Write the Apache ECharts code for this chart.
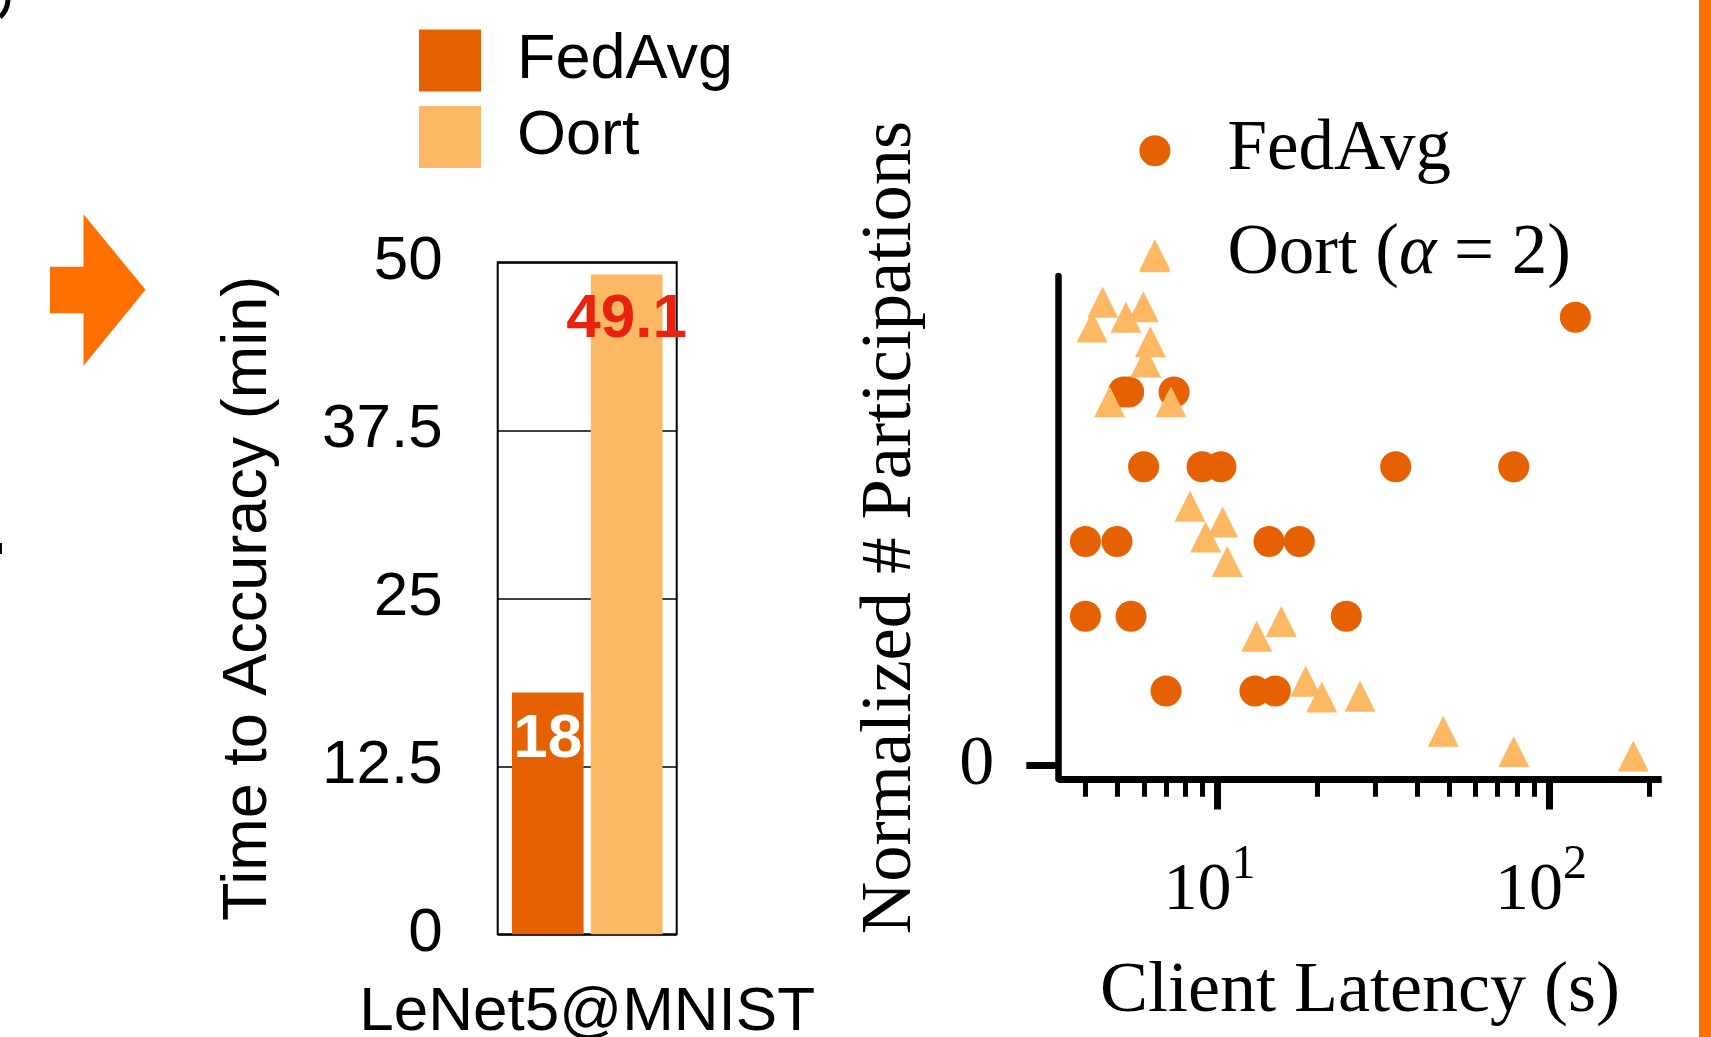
<!DOCTYPE html>
<html>
<head>
<meta charset="utf-8">
<script src="https://cdn.jsdelivr.net/npm/echarts@6.0.0/dist/echarts.min.js"></script>
<style>
  html, body { margin: 0; padding: 0; background: #fff; }
  #chart { width: 1711px; height: 1037px; }
</style>
</head>
<body>
<div id="chart"></div>
<script>
// ---------- data: left bar chart ----------
const categories = ['LeNet5@MNIST'];
const fedAvgTime = [18];
const oortTime = [49.1];
const timeAxisMin = 0;
const timeAxisMax = 50;
const timeAxisInterval = 12.5;

// ---------- data: right scatter chart ----------
const fedAvgLatency = [120.1, 5.21, 5.40, 7.40, 5.99, 8.99, 10.25, 34.5, 78.3, 4.00, 4.98, 14.31, 17.66, 4.00, 5.49, 24.48, 7.00, 12.98, 14.95];
const fedAvgParticipation = [6, 5, 5, 5, 4, 4, 4, 4, 4, 3, 3, 3, 3, 2, 2, 2, 1, 1, 1];
const oortLatency = [6.48, 4.51, 5.30, 5.98, 4.19, 6.28, 6.08, 4.73, 7.24, 8.27, 10.37, 9.22, 10.71, 13.14, 15.59, 18.47, 20.64, 26.93, 48.0, 78.3, 179.7];
const oortParticipation = [6.81, 6.20, 6.00, 6.14, 5.87, 5.67, 5.40, 4.87, 4.87, 3.47, 3.26, 3.06, 2.73, 1.73, 1.93, 1.13, 0.92, 0.93, 0.46, 0.19, 0.13];
const latencyMinorTicks = [4, 5, 6, 7, 8, 9, 20, 30, 40, 50, 60, 70, 80, 90, 200];
const latencyMajorTicks = [10, 100];
const participationTicks = [0];
const latencyMin = 3.313, latencyMax = 218.8;
const participationMin = -0.178, participationMax = 6.551;

const SANS = '"Liberation Sans", Arial, Helvetica, sans-serif';
const SERIF = '"Liberation Serif", "Times New Roman", serif';
const FED = '#E66101';
const OORT = '#FDB863';
const ACCENT = '#FF7000';

const chart = echarts.init(document.getElementById('chart'), null, { renderer: 'canvas' });

const option = {
  animation: false,
  backgroundColor: '#ffffff',
  grid: [
    { left: 497.7, top: 262.3, width: 179, height: 672, show: true, borderColor: '#000', borderWidth: 2,
      backgroundColor: 'transparent', containLabel: false, outerBoundsMode: 'none' },
    { left: 1058.3, top: 276, width: 603.4, height: 503, show: false, containLabel: false, outerBoundsMode: 'none' }
  ],
  legend: [
    {
      orient: 'vertical', left: 419, top: 29, padding: 0, itemWidth: 62, itemHeight: 62, itemGap: 13.5,
      selectedMode: false,
      data: [{ name: 'FedAvg', icon: 'rect' }, { name: 'Oort', icon: 'rect' }],
      textStyle: { fontFamily: SANS, fontSize: 63, color: '#000', padding: [0, 0, 0, 31] }
    },
    {
      orient: 'vertical', left: 1139.4, top: 115.3, padding: 0, itemWidth: 31, itemHeight: 31, itemGap: 33,
      selectedMode: false,
      data: [{ name: 'FedAvg', icon: 'circle' }, { name: 'Oort (α = 2)', icon: 'triangle' }],
      formatter: function (name) {
        return name === 'Oort (α = 2)' ? 'Oort ({i|α} = 2)' : name;
      },
      textStyle: {
        fontFamily: SERIF, fontSize: 71, color: '#000', padding: [0, 0, 0, 52],
        rich: { i: { fontFamily: SERIF, fontStyle: 'italic', fontSize: 71, color: '#000' } }
      }
    }
  ],
  xAxis: [
    {
      gridIndex: 0, type: 'category', data: categories,
      axisLine: { show: false }, axisTick: { show: false },
      axisLabel: { fontFamily: SANS, fontSize: 62, color: '#000', margin: 48 }
    },
    {
      gridIndex: 1, type: 'log', logBase: 10, min: latencyMin, max: latencyMax, position: 'bottom',
      axisLine: { show: true, onZero: false, lineStyle: { color: '#000', width: 7, cap: 'butt' } },
      axisTick: { show: true, customValues: latencyMinorTicks, length: 17.8, lineStyle: { color: '#000', width: 5 } },
      minorTick: { show: false },
      axisLabel: { show: false },
      splitLine: { show: false }
    },
    {
      gridIndex: 1, type: 'log', logBase: 10, min: latencyMin, max: latencyMax, position: 'bottom',
      axisLine: { show: false, onZero: false },
      axisTick: { show: true, customValues: latencyMajorTicks, length: 30.5, lineStyle: { color: '#000', width: 7 } },
      minorTick: { show: false },
      splitLine: { show: false },
      axisLabel: {
        show: true, customValues: latencyMajorTicks, margin: 62, color: '#000', padding: [0, 16, 0, 0],
        formatter: function (v) { return '{b|10}{s|' + Math.round(Math.log10(v)) + '}'; },
        rich: {
          b: { fontFamily: SERIF, fontSize: 68, color: '#000', verticalAlign: 'bottom' },
          s: { fontFamily: SERIF, fontSize: 48, lineHeight: 84, color: '#000', verticalAlign: 'top' }
        }
      },
      name: 'Client Latency (s)', nameLocation: 'middle', nameGap: 177, nameMoveOverlap: false,
      nameTextStyle: { fontFamily: SERIF, fontSize: 72, color: '#000' }
    }
  ],
  yAxis: [
    {
      gridIndex: 0, type: 'value', min: timeAxisMin, max: timeAxisMax, interval: timeAxisInterval,
      axisLine: { show: false }, axisTick: { show: false },
      splitLine: { show: true, lineStyle: { color: '#000', width: 1.6 } },
      axisLabel: { fontFamily: SANS, fontSize: 62, color: '#000', margin: 55 },
      name: 'Time to Accuracy (min)', nameLocation: 'middle', nameGap: 218, nameMoveOverlap: false,
      nameTextStyle: { fontFamily: SANS, fontSize: 63, color: '#000' }
    },
    {
      gridIndex: 1, type: 'value', min: participationMin, max: participationMax,
      axisLine: { show: true, onZero: false, lineStyle: { color: '#000', width: 6.5 } },
      axisTick: { show: true, customValues: participationTicks, length: 32, lineStyle: { color: '#000', width: 7 } },
      axisLabel: { show: true, customValues: participationTicks, fontFamily: SERIF, fontSize: 70, color: '#000', margin: 64 },
      splitLine: { show: false },
      name: 'Normalized # Participations', nameLocation: 'middle', nameGap: 131, nameMoveOverlap: false,
      nameTextStyle: { fontFamily: SERIF, fontSize: 72.5, color: '#000' }
    }
  ],
  series: [
    {
      type: 'bar', name: 'FedAvg', xAxisIndex: 0, yAxisIndex: 0, data: fedAvgTime,
      barWidth: 71.7, barGap: '10%', itemStyle: { color: FED },
      label: { show: true, position: 'insideTop', distance: 17, formatter: '{c}', color: '#fff',
               fontFamily: SANS, fontWeight: 'bold', fontSize: 62 }
    },
    {
      type: 'bar', name: 'Oort', xAxisIndex: 0, yAxisIndex: 0, data: oortTime,
      barWidth: 71.7, barGap: '10%', itemStyle: { color: OORT },
      label: { show: true, position: 'insideTop', distance: 15, formatter: '{c}', color: '#E8220F',
               fontFamily: SANS, fontWeight: 'bold', fontSize: 62 }
    },
    {
      type: 'scatter', name: 'FedAvg', xAxisIndex: 1, yAxisIndex: 1, clip: false,
      data: fedAvgLatency.map((x, i) => [x, fedAvgParticipation[i]]),
      symbol: 'circle', symbolSize: 31, itemStyle: { color: FED, opacity: 1 }
    },
    {
      type: 'scatter', name: 'Oort (α = 2)', xAxisIndex: 1, yAxisIndex: 1, clip: false,
      data: oortLatency.map((x, i) => [x, oortParticipation[i]]),
      symbol: 'triangle', symbolSize: 31, itemStyle: { color: OORT, opacity: 1 }
    }
  ],
  graphic: [
    { type: 'polygon', silent: true,
      shape: { points: [[50, 266.7], [83.5, 266.7], [83.5, 214.3], [145.5, 289.8], [83.5, 365.7], [83.5, 313.3], [50, 313.3]] },
      style: { fill: ACCENT } },
    { type: 'rect', silent: true, shape: { x: 1699, y: 0, width: 12, height: 1037 }, style: { fill: '#FF6E00' } },
    { type: 'rect', silent: true, shape: { x: 0, y: 543, width: 2, height: 11 }, style: { fill: '#000' } },
    { type: 'bezierCurve', silent: true, shape: { x1: 8, y1: -2, cpx1: 8, cpy1: 10, x2: 0, y2: 17 },
      style: { stroke: '#000', lineWidth: 5, fill: null } }
  ]
};

chart.setOption(option);
</script>
</body>
</html>
